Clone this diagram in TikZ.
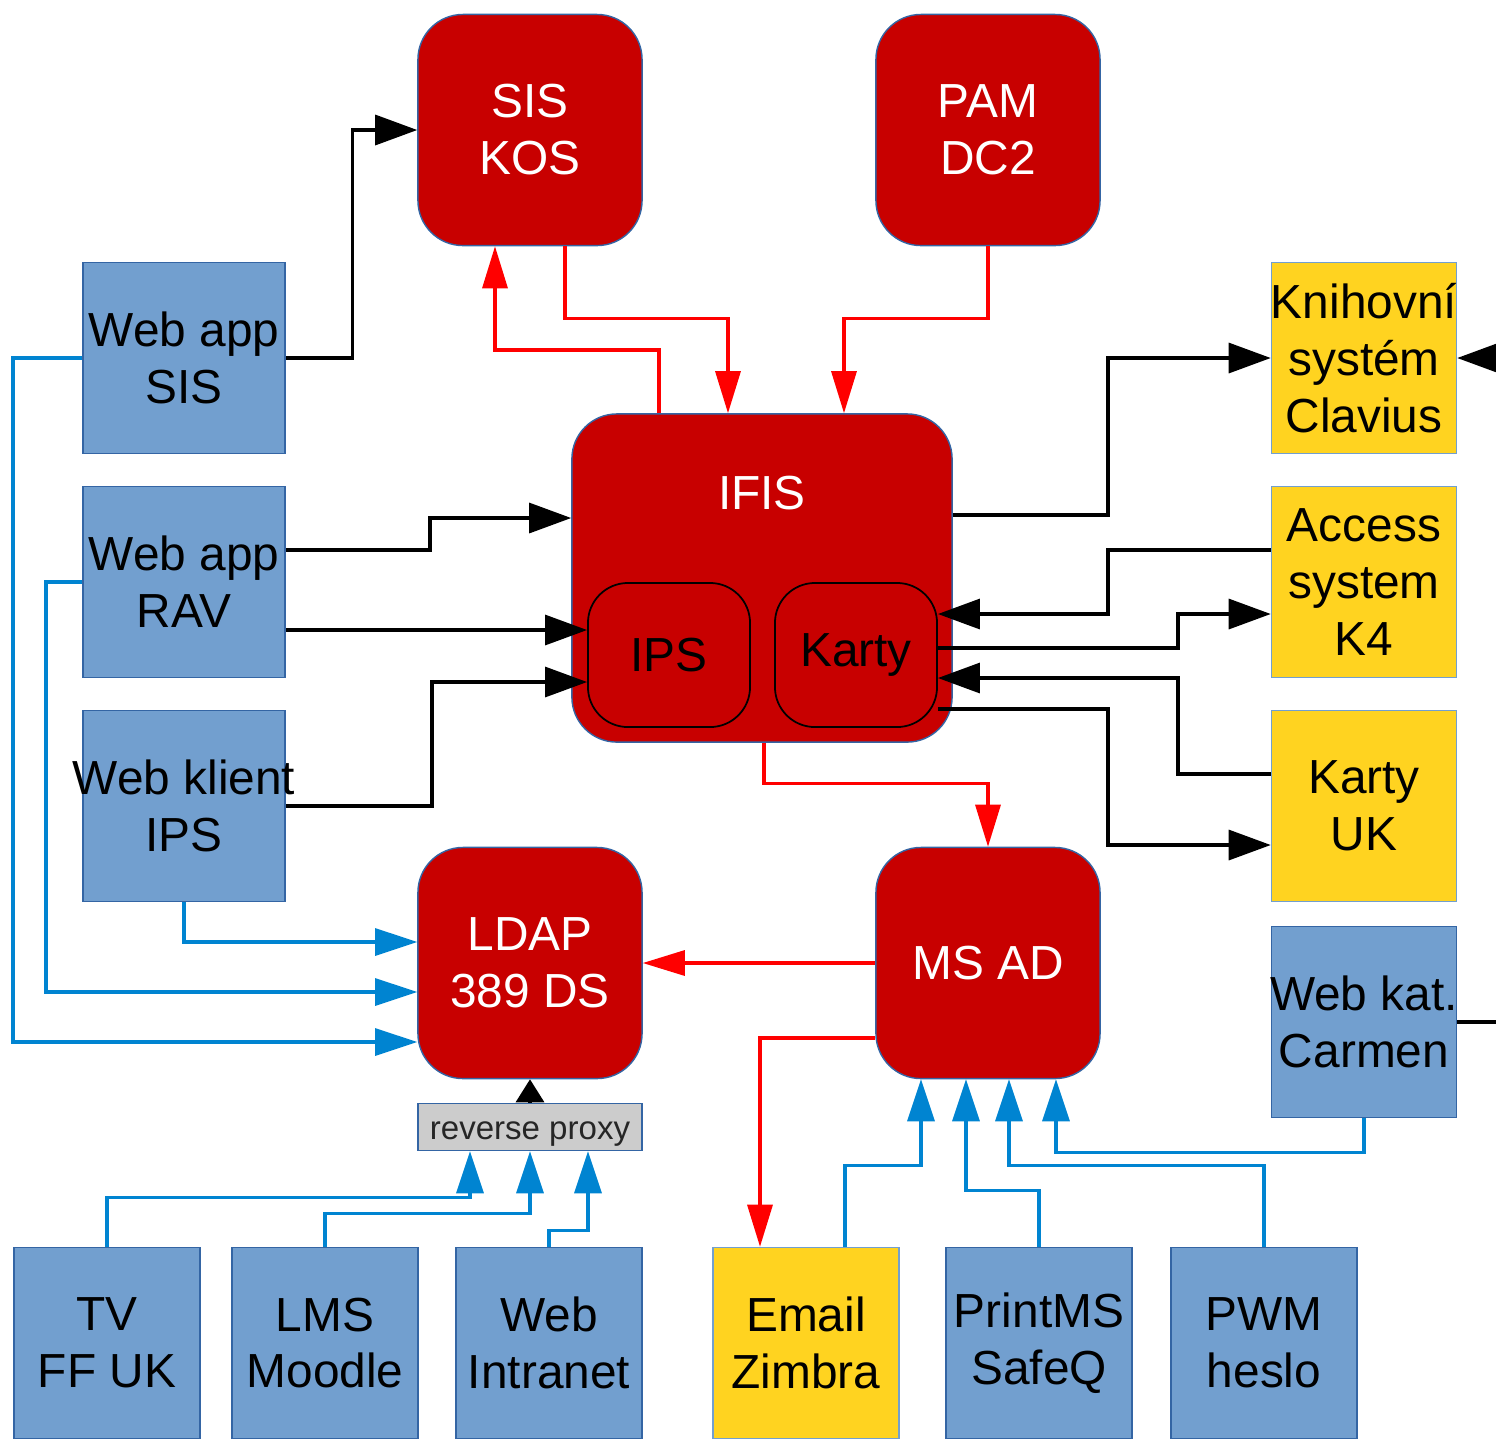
\documentclass[tikz,border=0pt]{standalone}
\usepackage{fontspec}
\setmainfont{Liberation Sans}
\usetikzlibrary{arrows.meta}
\definecolor{corered}{RGB}{200,0,0}
\definecolor{appblue}{RGB}{114,159,207}
\definecolor{edgeblue}{RGB}{52,101,164}
\definecolor{extyellow}{RGB}{255,211,32}
\definecolor{linkred}{RGB}{255,0,0}
\definecolor{linkblue}{RGB}{0,132,209}
\definecolor{proxygray}{RGB}{204,204,204}
\tikzset{
  core/.style={draw=edgeblue, line width=0.4pt, fill=corered, rounded corners=0.45cm, text=white, align=center, inner sep=0pt, minimum width=2.24cm, minimum height=2.31cm},
  sub/.style={draw=black, line width=0.5pt, fill=corered, rounded corners=0.4cm, align=center, inner sep=0pt, minimum width=1.62cm, minimum height=1.44cm},
  app/.style={draw=edgeblue, line width=0.4pt, fill=appblue, align=center, inner sep=0pt, minimum width=2.02cm, minimum height=1.91cm},
  ext/.style={app, draw=appblue, fill=extyellow, minimum width=1.85cm},
  client/.style={app, minimum width=1.86cm},
  proxybox/.style={draw=edgeblue, line width=0.4pt, fill=proxygray, inner sep=0pt, minimum width=2.24cm, minimum height=0.47cm, text height=0.25cm, text depth=0cm, text=black!85, font=\fontsize{9.4}{11}\selectfont},
  link/.style={line width=0.9pt, -{Triangle[length=0.42cm,width=0.3cm]}},
  redlink/.style={link, draw=linkred, -{Triangle[length=0.42cm,width=0.25cm,fill=linkred]}},
  bluelink/.style={link, draw=linkblue, -{Triangle[length=0.42cm,width=0.27cm,fill=linkblue]}}
}
\begin{document}
\begin{tikzpicture}[x=0.01cm, y=-0.01cm, font=\fontsize{13.6}{16.2}\selectfont]
\useasboundingbox (0,0) rectangle (1496,1438);
\node[core] (siskos) at (530,130) {SIS\\KOS};
\node[core] (pam) at (988,130) {PAM\\DC2};
\node[core, minimum width=3.8cm, minimum height=3.28cm] (ifis) at (762,578) {};
\node[text=white] (ifistitle) at (762,493) {IFIS};
\node[sub] (ips) at (669,655) {IPS};
\node[sub] (karty) at (856,655) {Karty};
\node[core] (ldap) at (530,963) {LDAP\\389 DS};
\node[core] (msad) at (988,963) {MS AD};
\node[proxybox] (proxy) at (530,1127) {reverse proxy};
\node[app] (websis) at (184,358) {Web app\\SIS};
\node[app] (webrav) at (184,582) {Web app\\RAV};
\node[app] (webklient) at (184,806) {\makebox[0pt]{Web klient}\\IPS};
\node[ext] (clavius) at (1364,358) {\makebox[0pt]{Knihovní}\\systém\\Clavius};
\node[ext] (access) at (1364,582) {Access\\system\\K4};
\node[ext] (kartyuk) at (1364,806) {Karty\\UK};
\node[app, minimum width=1.85cm] (carmen) at (1364,1022) {\makebox[0pt]{Web kat.}\\Carmen};
\node[client] (tv) at (107,1343) {TV\\FF UK};
\node[client] (lms) at (325,1343) {LMS\\Moodle};
\node[client] (intranet) at (549,1343) {Web\\Intranet};
\node[client, fill=extyellow, draw=appblue] (zimbra) at (806,1343) {Email\\Zimbra};
\node[client] (printms) at (1039,1343) {PrintMS\\SafeQ};
\node[client] (pwm) at (1264,1343) {PWM\\heslo};
\draw[link] (websis.east) -- ++(67,0) |- (siskos.west);
\draw[link] (webrav.east |- 0,550) -- (430,550) |- (ifis.west |- 0,518);
\draw[link] (webrav.east |- 0,630) -- (ips.west |- 0,630);
\draw[link] (webklient.east) -- (432,806) |- (ips.west |- 0,682);
\draw[link] (ifis.east |- 0,515) -- (1108,515) |- (clavius.west);
\draw[link] (access.west |- 0,550) -- (1108,550) |- (karty.east |- 0,614);
\draw[link] (karty.east |- 0,648) -- (1178,648) |- (access.west |- 0,614);
\draw[link] (kartyuk.west |- 0,774) -- (1178,774) |- (karty.east |- 0,678);
\draw[link] (karty.east |- 0,709) -- (1108,709) |- (kartyuk.west |- 0,845);
\draw[link] (carmen.east) -- (1540,1022) |- (clavius.east);
\draw[line width=0.9pt, -{Triangle[length=0.23cm,width=0.28cm]}] (proxy.north) -- (ldap.south);
\draw[redlink] (ifis.north -| 659,0) -- (659,350) -| (siskos.south -| 495,0);
\draw[redlink] (siskos.south -| 565,0) -- ++(0,72) -| (ifis.north -| 728,0);
\draw[redlink] (pam.south) -- ++(0,72) -| (ifis.north -| 844,0);
\draw[redlink] (ifis.south -| 764,0) -- ++(0,41) -| (msad.north);
\draw[redlink] (msad.west) -- (ldap.east);
\draw[redlink] (msad.west |- 0,1038) -| (zimbra.north -| 760,0);
\draw[bluelink] (websis.west) -- (13,358) |- (ldap.west |- 0,1042);
\draw[bluelink] (webrav.west) -- (46,582) |- (ldap.west |- 0,992);
\draw[bluelink] (webklient.south) |- (ldap.west |- 0,942);
\draw[bluelink] (tv.north) -- ++(0,-49) -| (proxy.south -| 470,0);
\draw[bluelink] (lms.north) -- ++(0,-33) -| (proxy.south);
\draw[bluelink] (intranet.north) -- ++(0,-16) -| (proxy.south -| 588,0);
\draw[bluelink] (zimbra.north -| 845,0) -- ++(0,-81) -| (msad.south -| 921,0);
\draw[bluelink] (printms.north) -- ++(0,-56) -| (msad.south -| 966,0);
\draw[bluelink] (pwm.north) -- ++(0,-81) -| (msad.south -| 1009,0);
\draw[bluelink] (carmen.south) -- ++(0,34) -| (msad.south -| 1056,0);
\end{tikzpicture}
\end{document}
